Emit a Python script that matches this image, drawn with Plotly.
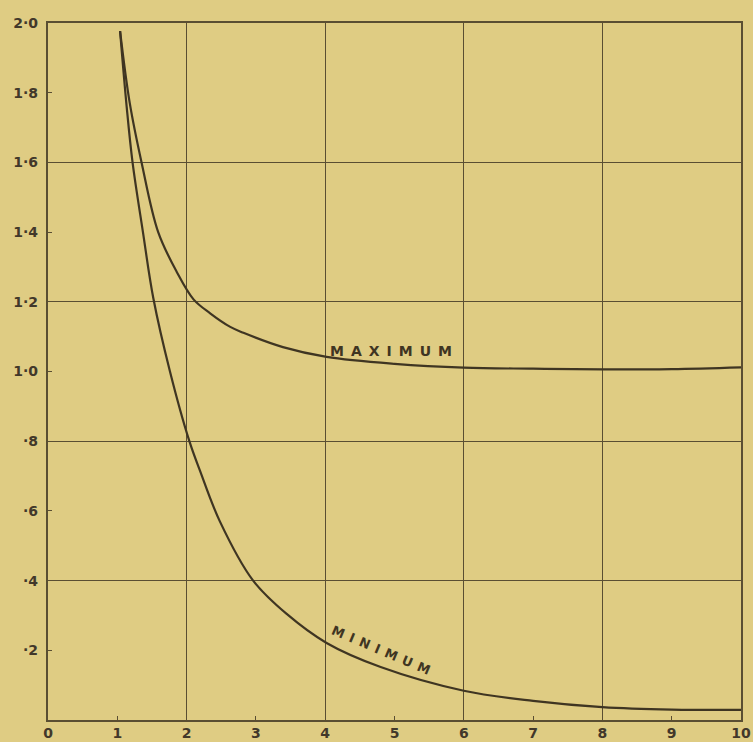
import plotly.graph_objects as go

# ---- data ----
x_ticks = [0, 1, 2, 3, 4, 5, 6, 7, 8, 9, 10]
x_tick_text = ["0", "1", "2", "3", "4", "5", "6", "7", "8", "9", "10"]
y_ticks = [0.2, 0.4, 0.6, 0.8, 1.0, 1.2, 1.4, 1.6, 1.8, 2.0]
y_tick_text = ["·2", "·4", "·6", "·8", "1·0", "1·2", "1·4", "1·6", "1·8", "2·0"]

max_x = [1.04, 1.18, 1.35, 1.59, 1.86, 2.10, 2.34, 2.63, 2.82, 3.39, 4.02, 5.0, 6.0, 7.0, 8.0, 9.0, 10.0]
max_y = [1.977, 1.77, 1.60, 1.40, 1.285, 1.207, 1.167, 1.128, 1.111, 1.07, 1.042, 1.022, 1.011, 1.008, 1.006, 1.007, 1.012]

min_x = [1.04, 1.135, 1.22, 1.37, 1.52, 1.76, 2.04, 2.19, 2.48, 2.96, 3.44, 4.02, 4.8, 6.0, 7.0, 8.0, 9.0, 10.0]
min_y = [1.977, 1.76, 1.60, 1.40, 1.21, 1.0, 0.80, 0.717, 0.57, 0.40, 0.305, 0.221, 0.152, 0.084, 0.055, 0.037, 0.030, 0.029]

BG = "#DFCC83"
INK = "#3F3522"
GRID = "#5A4E32"
FONT = dict(family="DejaVu Sans, sans-serif", size=14, color="#42382A", weight="bold")

fig = go.Figure()
fig.add_trace(go.Scatter(x=max_x, y=max_y, mode="lines",
                         line=dict(color=INK, width=2.2, shape="spline", smoothing=1.0),
                         showlegend=False, hoverinfo="skip"))
fig.add_trace(go.Scatter(x=min_x, y=min_y, mode="lines",
                         line=dict(color=INK, width=2.2, shape="spline", smoothing=1.0),
                         showlegend=False, hoverinfo="skip"))
# empty trace so the labelled overlay axes exist
fig.add_trace(go.Scatter(x=[], y=[], xaxis="x2", yaxis="y2", showlegend=False, hoverinfo="skip"))

fig.add_annotation(x=5.0, y=1.059, showarrow=False,
                   text='<span style="letter-spacing:7px">MAXIMUM</span>',
                   font=dict(family="DejaVu Sans, sans-serif", size=14, color=INK, weight="bold"))
fig.add_annotation(x=4.85, y=0.198, showarrow=False, textangle=23,
                   text='<span style="letter-spacing:6px">MINIMUM</span>',
                   font=dict(family="DejaVu Sans, sans-serif", size=13, color=INK, weight="bold"))

fig.update_layout(
    width=753, height=742,
    margin=dict(l=48, r=12, t=23, b=22, autoexpand=False),
    paper_bgcolor=BG, plot_bgcolor=BG,
    showlegend=False,
    xaxis=dict(range=[0, 10], tickmode="linear", dtick=2, tick0=0, showgrid=True, gridcolor=GRID,
               gridwidth=1.2, zeroline=False, showticklabels=False, ticks="", showline=True,
               linecolor=GRID, linewidth=1.6, mirror=True, fixedrange=True, automargin=False),
    yaxis=dict(range=[0, 2], tickmode="linear", dtick=0.4, tick0=0, showgrid=True, gridcolor=GRID,
               gridwidth=1.2, zeroline=False, showticklabels=False, ticks="", showline=True,
               linecolor=GRID, linewidth=1.6, mirror=True, fixedrange=True, automargin=False),
    xaxis2=dict(range=[0, 10], overlaying="x", anchor="y2", side="bottom", tickmode="array",
                tickvals=x_ticks, ticktext=x_tick_text, ticks="inside", ticklen=4, tickcolor=GRID,
                showgrid=False, zeroline=False, showline=False, tickfont=FONT, ticklabelstandoff=3,
                fixedrange=True, automargin=False),
    yaxis2=dict(range=[0, 2], overlaying="y", anchor="x2", side="left", tickmode="array",
                tickvals=y_ticks, ticktext=y_tick_text, ticks="inside", ticklen=4, tickcolor=GRID,
                showgrid=False, zeroline=False, showline=False, tickfont=FONT, ticklabelstandoff=9,
                fixedrange=True, automargin=False),
)

fig.write_html(
    "out.html",
    config={"displayModeBar": False, "staticPlot": True},
    post_script="document.body.style.margin='0';document.body.style.background='%s';" % BG,
)
